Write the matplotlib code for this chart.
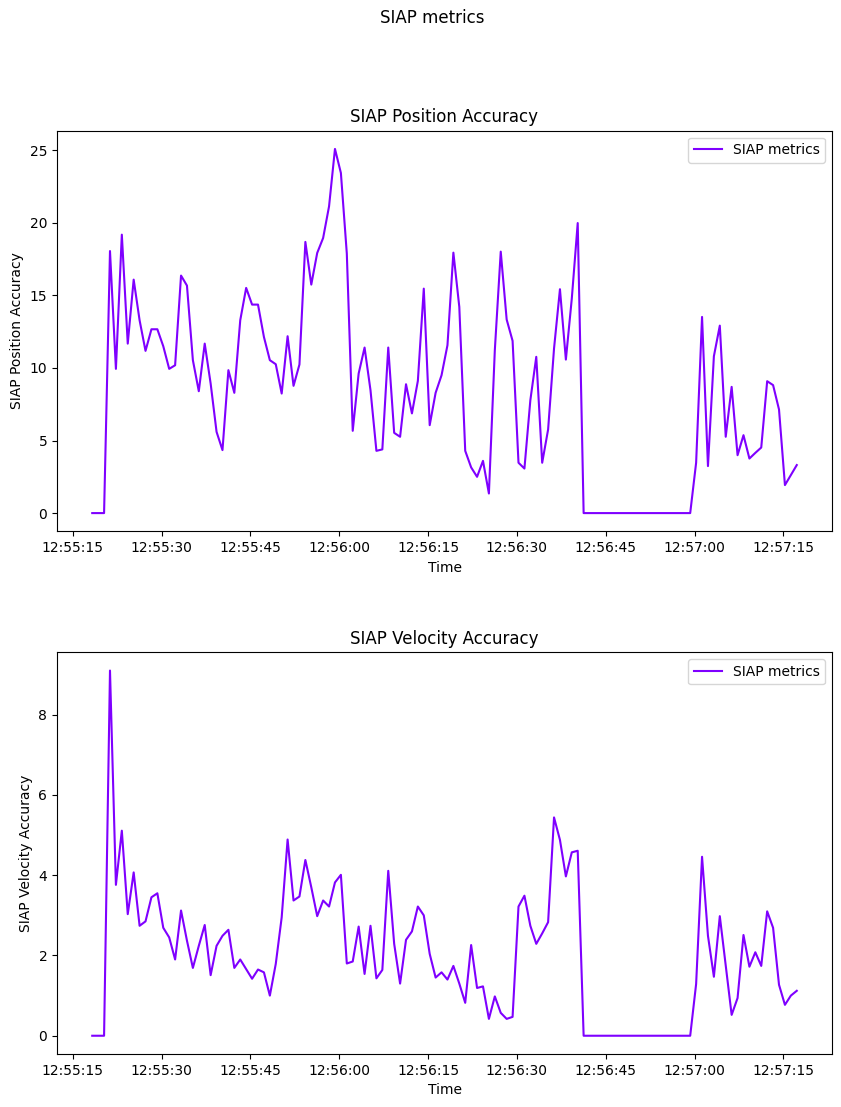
import matplotlib
matplotlib.use("Agg")
import matplotlib.pyplot as plt
import matplotlib.dates as mdates
import pandas as pd

start_time = "2024-01-01 12:55:18.27"

position_accuracy = [
    0, 0, 0, 18.06, 9.94, 19.19, 11.68, 16.09, 13.29, 11.18,
    12.67, 12.67, 11.5, 9.94, 10.19, 16.37, 15.68, 10.54, 8.40, 11.68,
    8.93, 5.60, 4.34, 9.85, 8.29, 13.29, 15.52, 14.37, 14.37, 12.14,
    10.54, 10.26, 8.24, 12.19, 8.77, 10.24, 18.69, 15.75, 17.93, 18.96,
    21.14, 25.1, 23.44, 17.89, 5.67, 9.62, 11.41, 8.47, 4.29, 4.39,
    11.41, 5.53, 5.26, 8.88, 6.87, 9.11, 15.47, 6.06, 8.29, 9.50,
    11.57, 17.95, 14.21, 4.29, 3.15, 2.50, 3.60, 1.35, 11.23, 18.02,
    13.34, 11.87, 3.47, 3.07, 7.78, 10.77, 3.47, 5.76, 11.34, 15.43,
    10.58, 14.78, 19.99, 0, 0, 0, 0, 0, 0, 0,
    0, 0, 0, 0, 0, 0, 0, 0, 0, 0,
    0, 0, 3.47, 13.52, 3.24, 10.81, 12.92, 5.26, 8.70, 3.99,
    5.37, 3.76, 4.15, 4.52, 9.09, 8.82, 7.14, 1.93, 2.62, 3.31,
]

velocity_accuracy = [
    0, 0, 0, 9.10, 3.76, 5.11, 3.03, 4.07, 2.74, 2.85,
    3.45, 3.55, 2.69, 2.45, 1.90, 3.12, 2.37, 1.69, 2.24, 2.76,
    1.51, 2.24, 2.49, 2.64, 1.69, 1.90, 1.66, 1.42, 1.65, 1.58,
    1.00, 1.79, 2.95, 4.89, 3.37, 3.47, 4.38, 3.70, 2.98, 3.37,
    3.22, 3.82, 4.01, 1.80, 1.85, 2.72, 1.54, 2.74, 1.43, 1.64,
    4.11, 2.29, 1.30, 2.39, 2.60, 3.22, 3.00, 2.04, 1.45, 1.58,
    1.40, 1.74, 1.30, 0.82, 2.26, 1.19, 1.23, 0.42, 0.98, 0.57,
    0.42, 0.47, 3.22, 3.49, 2.74, 2.29, 2.55, 2.83, 5.44, 4.88,
    3.97, 4.57, 4.61, 0, 0, 0, 0, 0, 0, 0,
    0, 0, 0, 0, 0, 0, 0, 0, 0, 0,
    0, 0, 1.29, 4.46, 2.49, 1.47, 2.98, 1.75, 0.52, 0.94,
    2.51, 1.72, 2.08, 1.74, 3.10, 2.69, 1.27, 0.77, 1.00, 1.12,
]

times = pd.date_range(start_time, periods=len(position_accuracy), freq="1s")

titles = ["SIAP Position Accuracy", "SIAP Velocity Accuracy"]
series = [position_accuracy, velocity_accuracy]
line_color = "#7f00ff"

W, H = 841, 1107
fig = plt.figure(figsize=(W / 100, H / 100), dpi=100)
boxes = [(57, 130.7, 832, 531.3), (57, 652.3, 832, 1054)]

for (l, t, r, b), title, vals in zip(boxes, titles, series):
    ax = fig.add_axes([l / W, 1 - b / H, (r - l) / W, (b - t) / H])
    ax.plot(times, vals, color=line_color, label="SIAP metrics")
    ax.set_title(title)
    ax.set_xlabel("Time")
    ax.set_ylabel(title)
    ax.xaxis.set_major_locator(mdates.SecondLocator(bysecond=[0, 15, 30, 45]))
    ax.xaxis.set_major_formatter(mdates.DateFormatter("%H:%M:%S"))
    ax.legend(loc="upper right")

fig.text(432 / W, 1 - 18 / H, "SIAP metrics", ha="center", va="center", fontsize=12)

fig.savefig("out.png", dpi=100)
